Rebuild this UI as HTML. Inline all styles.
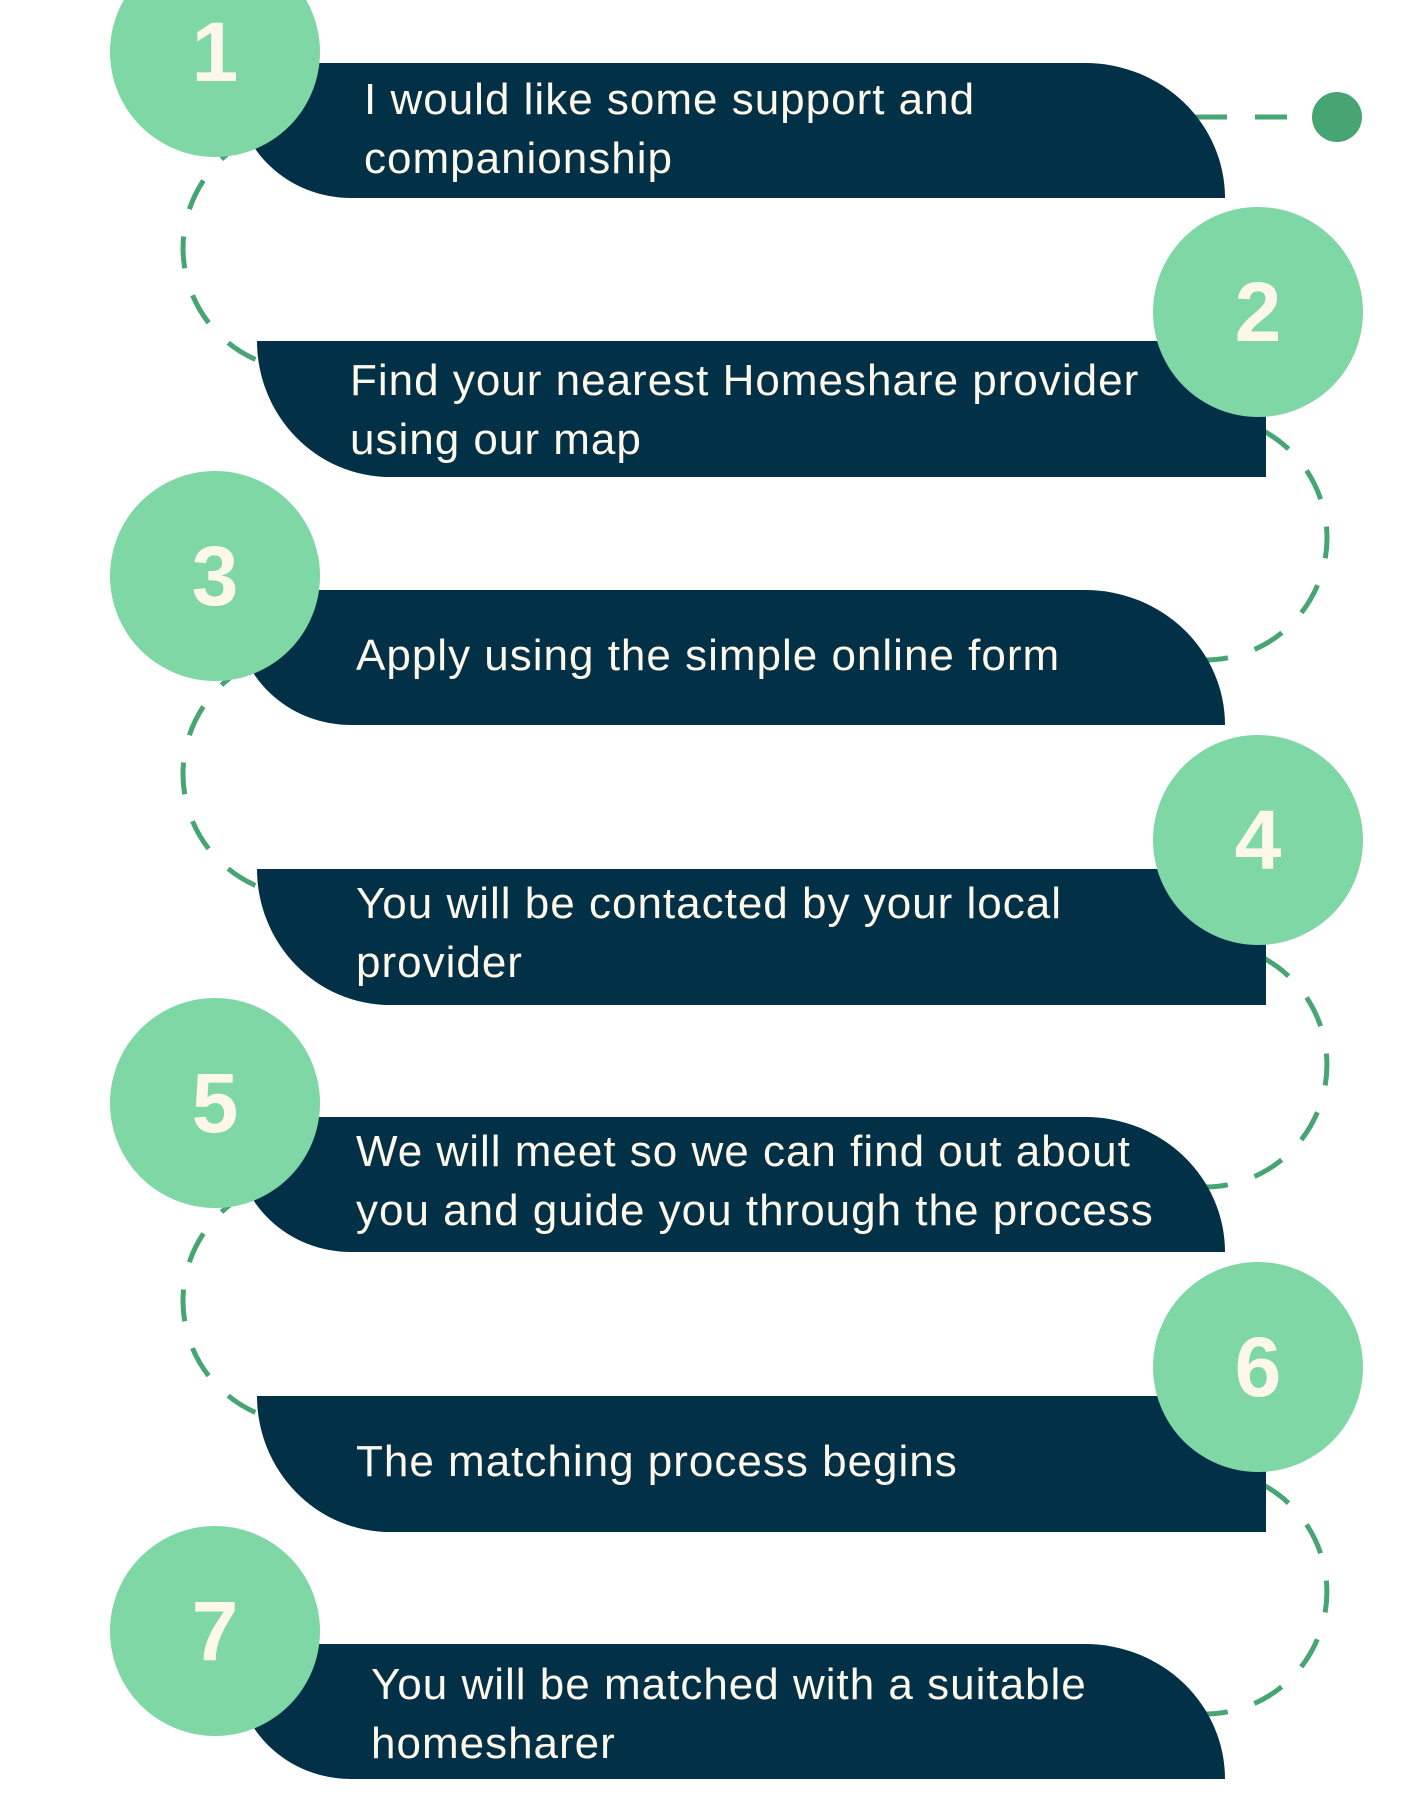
<!DOCTYPE html>
<html><head><meta charset="utf-8"><style>
body{margin:0;width:1414px;height:1800px;background:#fff;position:relative;overflow:hidden;font-family:"Liberation Sans",sans-serif}
.bar{position:absolute;background:#023047;}
.odd{left:236px;width:989px;height:135px;border-radius:0 140px 0 115px/0 135px 0 110px}
.even{left:257px;width:1009px;height:136px;border-radius:0 60px 0 133px/0 60px 0 136px}
.c{position:absolute;width:210px;height:210px;border-radius:50%;background:#7fd7a5;color:#fdf8ea;font-weight:bold;font-size:84px;line-height:210px;text-align:center}
.t{position:absolute;color:#fdf8ea;font-size:44px;letter-spacing:1px;line-height:59px;white-space:nowrap}
svg{position:absolute;left:0;top:0}
</style></head><body>
<svg width="1414" height="1800">
<g fill="none" stroke="#47a574" stroke-width="5" stroke-dasharray="32 28">
<path d="M305,126 A122 122 0 0 0 305,370"/>
<path d="M305,652 A122 122 0 0 0 305,896"/>
<path d="M305,1179 A122 122 0 0 0 305,1423"/>
<path d="M1205,416 A122 122 0 0 1 1205,660"/>
<path d="M1205,943 A122 122 0 0 1 1205,1187"/>
<path d="M1205,1470 A122 122 0 0 1 1205,1714"/>
<path d="M1195,117 L1315,117"/>
</g>
<circle cx="1337" cy="117" r="25" fill="#47a574"/>
</svg>
<div class="bar odd" style="top:63px"></div>
<div class="bar even" style="top:341px"></div>
<div class="bar odd" style="top:590px"></div>
<div class="bar even" style="top:869px"></div>
<div class="bar odd" style="top:1117px"></div>
<div class="bar even" style="top:1396px"></div>
<div class="bar odd" style="top:1644px"></div>
<div class="c" style="left:110px;top:-53px">1</div>
<div class="c" style="left:1153px;top:207px">2</div>
<div class="c" style="left:110px;top:471px">3</div>
<div class="c" style="left:1153px;top:735px">4</div>
<div class="c" style="left:110px;top:998px">5</div>
<div class="c" style="left:1153px;top:1262px">6</div>
<div class="c" style="left:110px;top:1526px">7</div>
<div class="t" style="left:364px;top:70px">I would like some support and<br>companionship</div>
<div class="t" style="left:350px;top:351px">Find your nearest Homeshare provider<br>using our map</div>
<div class="t" style="left:356px;top:626px">Apply using the simple online form</div>
<div class="t" style="left:356px;top:874px">You will be contacted by your local<br>provider</div>
<div class="t" style="left:356px;top:1122px">We will meet so we can find out about<br>you and guide you through the process</div>
<div class="t" style="left:356px;top:1432px">The matching process begins</div>
<div class="t" style="left:371px;top:1655px">You will be matched with a suitable<br>homesharer</div>
</body></html>
